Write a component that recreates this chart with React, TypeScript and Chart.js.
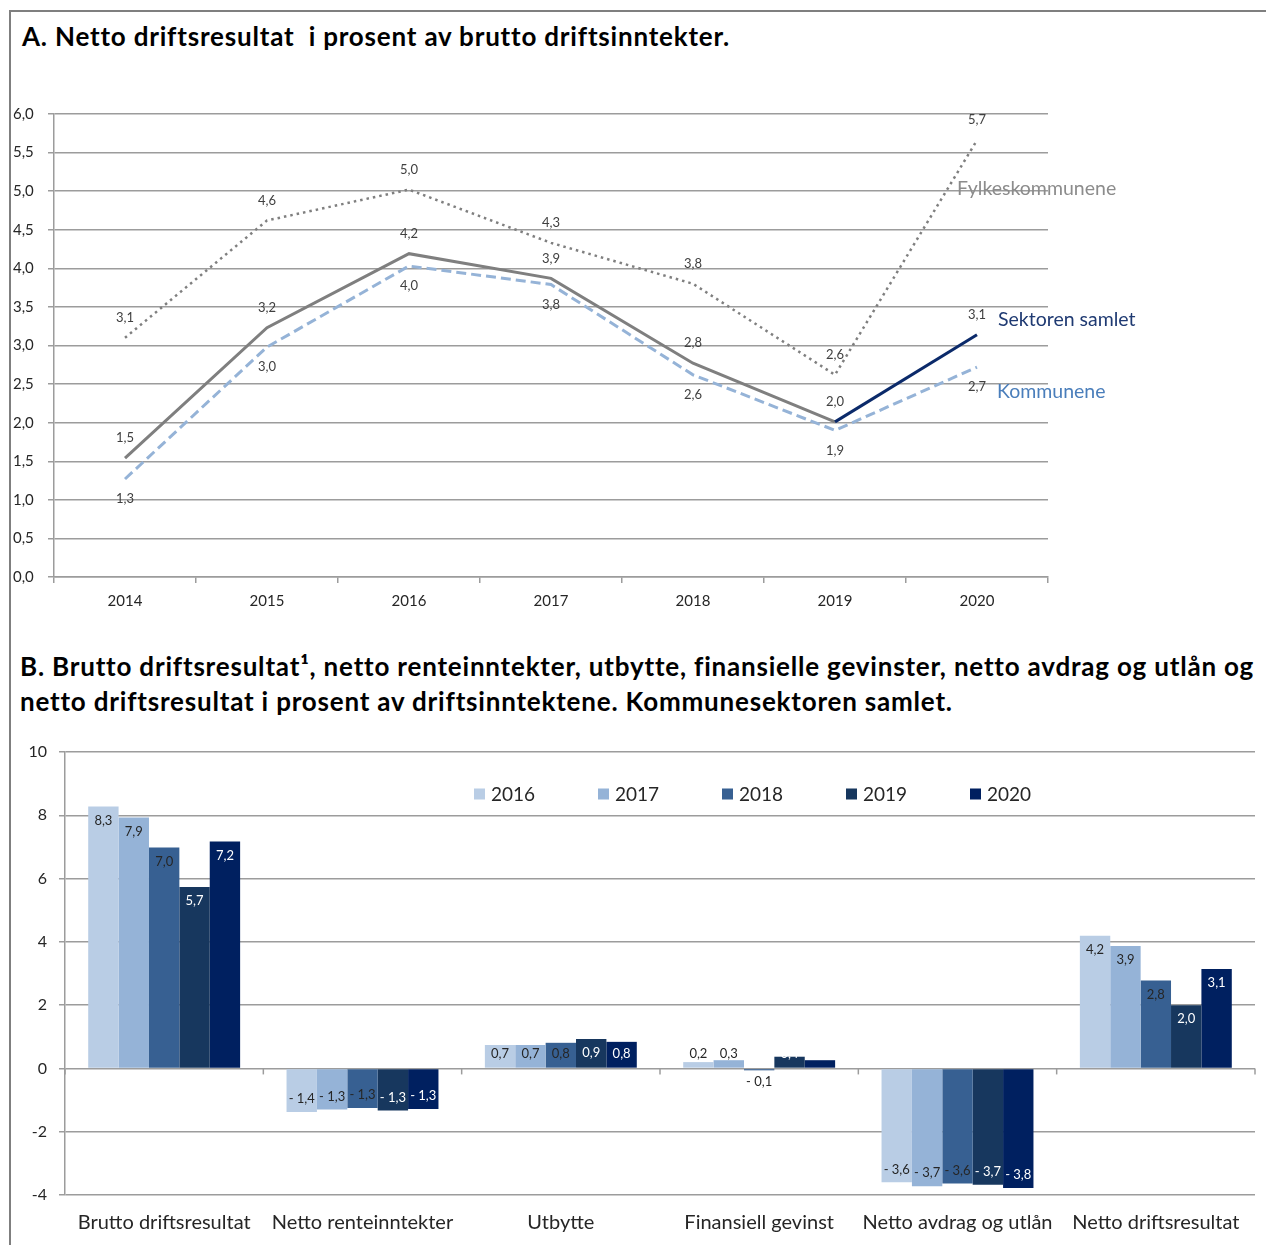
import React, { useEffect, useRef } from 'react';
import { Chart, registerables } from 'chart.js';

Chart.register(...registerables);
Chart.defaults.font.family = 'Lato, "Noto Sans", sans-serif';

// ---------- Chart A data ----------
const yearsA = ['2014', '2015', '2016', '2017', '2018', '2019', '2020'];
const fylkeskommunene = [3.1, 4.62, 5.02, 4.33, 3.8, 2.62, 5.66];
const sektorenSamlet = [1.54, 3.23, 4.19, 3.87, 2.77, 2.01, 3.14];
const kommunene = [1.27, 2.98, 4.03, 3.79, 2.62, 1.9, 2.72];
const seriesNamesA = ['Fylkeskommunene', 'Sektoren samlet', 'Kommunene'];
const yMinA = 0;
const yMaxA = 6;
const yStepA = 0.5;

// ---------- Chart B data ----------
const categoriesB = [
  'Brutto driftsresultat',
  'Netto renteinntekter',
  'Utbytte',
  'Finansiell gevinst',
  'Netto avdrag og utlån',
  'Netto driftsresultat',
];
const yearsB = ['2016', '2017', '2018', '2019', '2020'];
const values2016 = [8.28, -1.38, 0.74, 0.2, -3.6, 4.19];
const values2017 = [7.93, -1.3, 0.74, 0.26, -3.72, 3.87];
const values2018 = [6.98, -1.25, 0.81, -0.06, -3.64, 2.78];
const values2019 = [5.73, -1.33, 0.93, 0.37, -3.68, 2.0];
const values2020 = [7.17, -1.28, 0.84, 0.26, -3.78, 3.14];
const yMinB = -4;
const yMaxB = 10;
const yStepB = 2;

const GRID = '#9c9c9c';
const FONT = 'Lato, "Noto Sans", sans-serif';

const fmt1 = (v: number) => v.toFixed(1).replace('.', ',');
const fmtBar = (v: number) => {
  const s = Math.abs(v).toFixed(1).replace('.', ',');
  return v < 0 ? '- ' + s : s;
};

function LineChartA() {
  const ref = useRef<HTMLCanvasElement | null>(null);
  useEffect(() => {
    if (!ref.current) return;
    const labelOffsets = [-20, -20, 20];
    const nameStyles = [
      { color: '#8c8c8c', dx: -20, dy: 48 },
      { color: '#1f3a72', dx: 21, dy: -15 },
      { color: '#4a7ebb', dx: 20, dy: 25 },
    ];
    const labelsPlugin = {
      id: 'lineLabels',
      afterDatasetsDraw(chart: any) {
        const ctx = chart.ctx;
        ctx.save();
        ctx.textAlign = 'center';
        ctx.textBaseline = 'middle';
        ctx.font = `13px ${FONT}`;
        ctx.fillStyle = '#404040';
        chart.data.datasets.forEach((ds: any, i: number) => {
          const meta = chart.getDatasetMeta(i);
          meta.data.forEach((pt: any, j: number) => {
            ctx.fillText(fmt1(ds.data[j]), pt.x, pt.y + labelOffsets[i]);
          });
        });
        ctx.font = `19.5px ${FONT}`;
        ctx.textAlign = 'left';
        chart.data.datasets.forEach((ds: any, i: number) => {
          const meta = chart.getDatasetMeta(i);
          const last = meta.data[meta.data.length - 1];
          const st = nameStyles[i];
          ctx.fillStyle = st.color;
          ctx.fillText(ds.label, last.x + st.dx, last.y + st.dy);
        });
        ctx.restore();
      },
    };
    const chart = new Chart(ref.current, {
      type: 'line',
      data: {
        labels: yearsA,
        datasets: [
          {
            label: seriesNamesA[0],
            data: fylkeskommunene,
            borderColor: '#7f7f7f',
            borderWidth: 2.5,
            borderDash: [2.5, 4],
            pointRadius: 0,
            fill: false,
          },
          {
            label: seriesNamesA[1],
            data: sektorenSamlet,
            borderColor: '#7f7f7f',
            borderWidth: 3,
            pointRadius: 0,
            fill: false,
            segment: {
              borderColor: (c: any) =>
                c.p1DataIndex === sektorenSamlet.length - 1 ? '#0b2a6a' : '#7f7f7f',
            },
          },
          {
            label: seriesNamesA[2],
            data: kommunene,
            borderColor: '#95b3d7',
            borderWidth: 3,
            borderDash: [10, 5],
            pointRadius: 0,
            fill: false,
          },
        ],
      },
      options: {
        animation: false,
        responsive: false,
        maintainAspectRatio: false,
        layout: { padding: { left: 13, right: 218, top: 24, bottom: 0 } },
        plugins: { legend: { display: false }, tooltip: { enabled: false } },
        scales: {
          x: {
            offset: true,
            grid: {
              drawOnChartArea: false,
              drawTicks: true,
              tickLength: 6,
              offset: true,
              color: GRID,
              lineWidth: 1.5,
            },
            border: { display: true, color: GRID, width: 1.5 },
            ticks: { color: '#262626', font: { size: 15, family: FONT }, padding: 9, maxRotation: 0, autoSkip: false },
            afterFit: (s: any) => {
              s.height = 53;
            },
          },
          y: {
            min: yMinA,
            max: yMaxA,
            grid: { color: GRID, lineWidth: 1.5, tickLength: 6 },
            border: { display: true, color: GRID, width: 1.5 },
            ticks: {
              stepSize: yStepA,
              crossAlign: 'far',
              color: '#262626',
              font: { size: 15, family: FONT },
              callback: (v: any) => fmt1(Number(v)),
            },
            afterFit: (s: any) => {
              s.width = 41;
            },
          },
        },
      },
      plugins: [labelsPlugin],
    } as any);
    return () => chart.destroy();
  }, []);
  return (
    <canvas
      ref={ref}
      width={1266}
      height={540}
      style={{ position: 'absolute', left: 0, top: 90, width: 1266, height: 540 }}
    />
  );
}

function BarChartB() {
  const ref = useRef<HTMLCanvasElement | null>(null);
  useEffect(() => {
    if (!ref.current) return;
    const colors = ['#b9cde5', '#95b3d7', '#376092', '#17375e', '#002060'];
    const labelColors = ['#262626', '#262626', '#262626', '#ffffff', '#ffffff'];
    const barLabels = {
      id: 'barLabels',
      afterDatasetsDraw(chart: any) {
        const ctx = chart.ctx;
        ctx.save();
        ctx.font = `13px ${FONT}`;
        ctx.textAlign = 'center';
        ctx.textBaseline = 'middle';
        chart.data.datasets.forEach((ds: any, i: number) => {
          const meta = chart.getDatasetMeta(i);
          meta.data.forEach((bar: any, j: number) => {
            const v = ds.data[j];
            const p = bar.getProps(['x', 'y', 'base'], true);
            const cy = v >= 0 ? Math.min(p.y + 14, p.base - 14) : Math.max(p.y - 13, p.base + 13);
            ctx.fillStyle = labelColors[i];
            ctx.fillText(fmtBar(v), p.x, cy);
          });
        });
        ctx.restore();
      },
      afterDraw(chart: any) {
        const ctx = chart.ctx;
        const xs = chart.scales.x;
        const ys = chart.scales.y;
        const y0 = ys.getPixelForValue(0);
        const n = chart.data.labels.length;
        ctx.save();
        ctx.strokeStyle = GRID;
        ctx.lineWidth = 1.5;
        for (let i = 0; i <= n; i++) {
          const x = xs.left + (i * xs.width) / n;
          ctx.beginPath();
          ctx.moveTo(x, y0);
          ctx.lineTo(x, y0 + 6);
          ctx.stroke();
        }
        // legend
        const ca = chart.chartArea;
        ctx.font = `19px ${FONT}`;
        ctx.textAlign = 'left';
        ctx.textBaseline = 'middle';
        chart.data.datasets.forEach((ds: any, i: number) => {
          const x = ca.left + 409 + i * 124;
          const y = ca.top + 42;
          ctx.fillStyle = colors[i];
          ctx.fillRect(x, y - 5.5, 11, 11);
          ctx.fillStyle = '#262626';
          ctx.fillText(ds.label, x + 17, y + 1);
        });
        ctx.restore();
      },
    };
    const series = [values2016, values2017, values2018, values2019, values2020];
    const chart = new Chart(ref.current, {
      type: 'bar',
      data: {
        labels: categoriesB,
        datasets: series.map((d, i) => ({
          label: yearsB[i],
          data: d,
          backgroundColor: colors[i],
          borderWidth: 0,
          barPercentage: 1,
          categoryPercentage: 0.766,
        })),
      },
      options: {
        animation: false,
        responsive: false,
        maintainAspectRatio: false,
        layout: { padding: { left: 0, right: 11, top: 22, bottom: 0 } },
        plugins: { legend: { display: false }, tooltip: { enabled: false } },
        scales: {
          x: {
            grid: { display: false, drawTicks: false },
            border: { display: false },
            ticks: { color: '#262626', font: { size: 20, family: FONT }, padding: 16, maxRotation: 0, autoSkip: false },
            afterFit: (s: any) => {
              s.height = 50;
            },
          },
          y: {
            min: yMinB,
            max: yMaxB,
            grid: { color: GRID, lineWidth: 1.5, tickLength: 6 },
            border: { display: true, color: GRID, width: 1.5 },
            ticks: { stepSize: yStepB, color: '#262626', font: { size: 16, family: FONT }, padding: 12 },
            afterFit: (s: any) => {
              s.width = 65;
            },
          },
        },
      },
      plugins: [barLabels],
    } as any);
    return () => chart.destroy();
  }, []);
  return (
    <canvas
      ref={ref}
      width={1266}
      height={515}
      style={{ position: 'absolute', left: 0, top: 730, width: 1266, height: 515 }}
    />
  );
}

export default function App() {
  useEffect(() => {
    document.body.style.margin = '0';
    document.body.style.background = '#ffffff';
  }, []);
  const titleStyle: React.CSSProperties = {
    position: 'absolute',
    fontFamily: FONT,
    fontWeight: 700,
    fontSize: 26,
    letterSpacing: '0.8px',
    color: '#000',
    whiteSpace: 'nowrap',
    lineHeight: '30px',
  };
  return (
    <div style={{ position: 'relative', width: 1266, height: 1245, background: '#fff', overflow: 'hidden' }}>
      <div style={{ position: 'absolute', left: 9, top: 10, width: 2, height: 1235, background: '#7f7f7f' }} />
      <div style={{ position: 'absolute', left: 9, top: 10, width: 1257, height: 2, background: '#7f7f7f' }} />
      <div style={{ ...titleStyle, left: 22, top: 21 }}>A. Netto driftsresultat&nbsp; i prosent av brutto driftsinntekter.</div>
      <LineChartA />
      <div style={{ ...titleStyle, left: 20, top: 651 }}>
        B. Brutto driftsresultat¹, netto renteinntekter, utbytte, finansielle gevinster, netto avdrag og utlån og
      </div>
      <div style={{ ...titleStyle, left: 20, top: 686 }}>
        netto driftsresultat i prosent av driftsinntektene. Kommunesektoren samlet.
      </div>
      <BarChartB />
    </div>
  );
}
